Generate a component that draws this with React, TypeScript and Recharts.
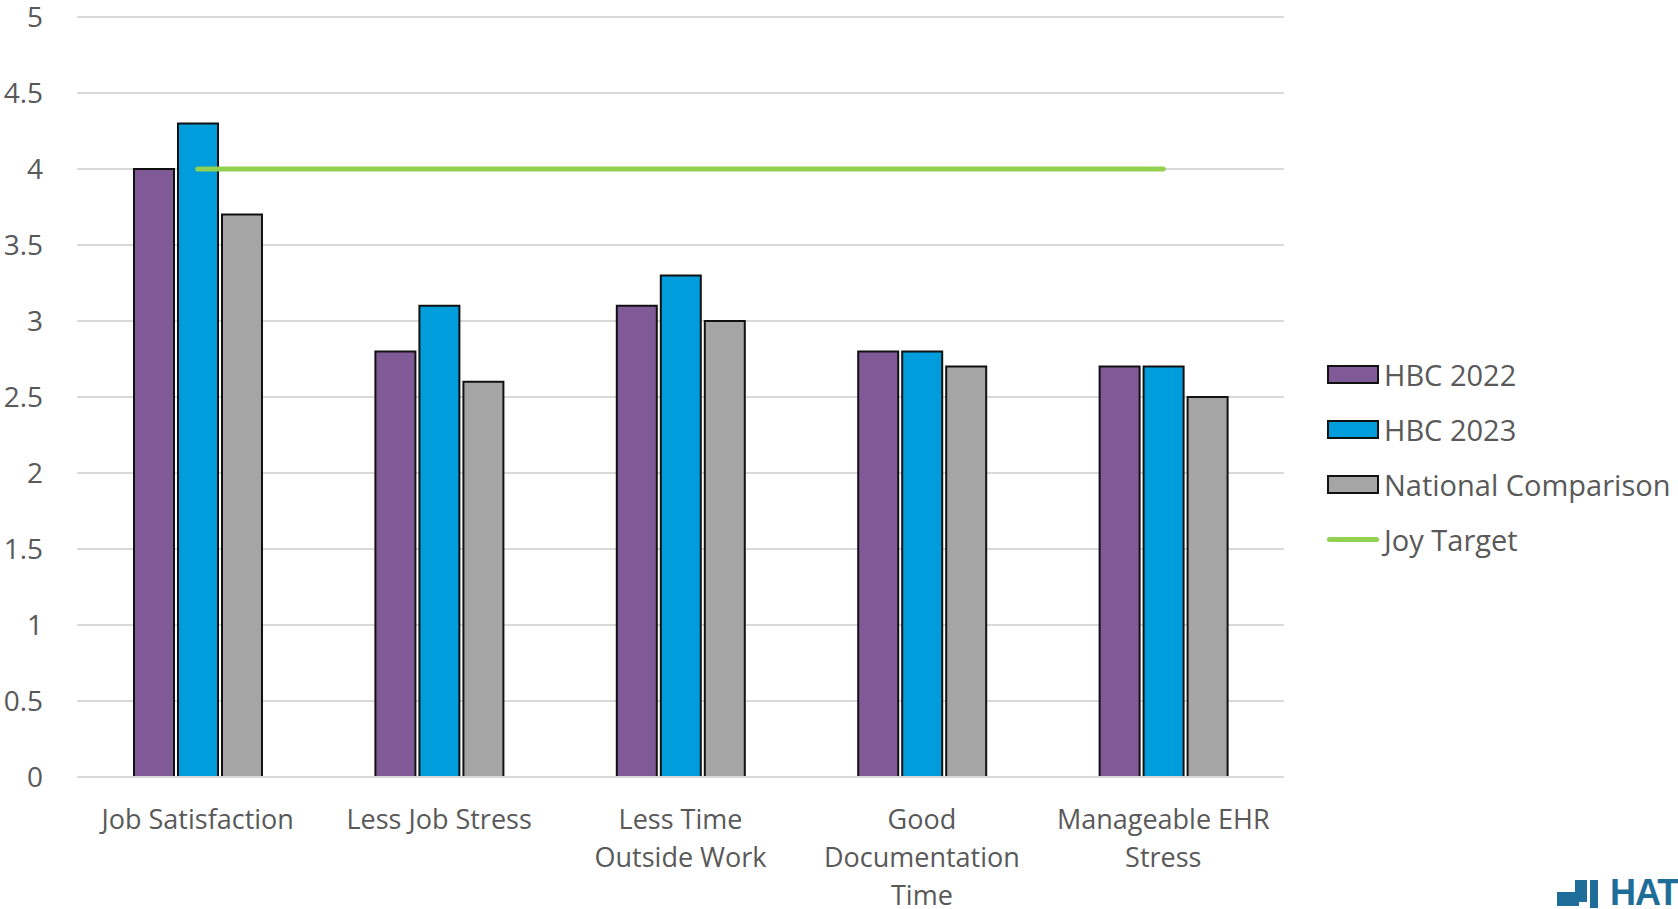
import { ComposedChart, Bar, Line, XAxis, YAxis, CartesianGrid } from 'recharts'

const categories = [
  'Job Satisfaction',
  'Less Job Stress',
  'Less Time\nOutside Work',
  'Good\nDocumentation\nTime',
  'Manageable EHR\nStress',
]
const hbc2022 = [4.0, 2.8, 3.1, 2.8, 2.7]
const hbc2023 = [4.3, 3.1, 3.3, 2.8, 2.7]
const national = [3.7, 2.6, 3.0, 2.7, 2.5]
const joyTarget = [4, 4, 4, 4, 4]
const yTicks = [0, 0.5, 1, 1.5, 2, 2.5, 3, 3.5, 4, 4.5, 5]

const FONT = '"Open Sans", sans-serif'
const TEXT = '#595959'

const series = [
  { key: 'hbc2022', name: 'HBC 2022', color: '#7F5A96' },
  { key: 'hbc2023', name: 'HBC 2023', color: '#009DDC' },
  { key: 'national', name: 'National Comparison', color: '#A5A5A5' },
]

const data = categories.map((c, i) => ({
  name: c,
  hbc2022: hbc2022[i],
  hbc2023: hbc2023[i],
  national: national[i],
  joy: joyTarget[i],
}))

function CategoryTick({ x, y, payload }: any) {
  const lines = String(payload.value).split('\n')
  return (
    <text x={x} y={y} textAnchor="middle" fill={TEXT} fontFamily={FONT} fontSize={27}>
      {lines.map((l, i) => (
        <tspan key={i} x={x} dy={i === 0 ? 44 : 38}>{l}</tspan>
      ))}
    </text>
  )
}

function LegendBox() {
  const rows = [...series.map(s => ({ ...s, line: false })), { key: 'joy', name: 'Joy Target', color: '#92D050', line: true }]
  return (
    <div style={{ position: 'absolute', left: 1327, top: 347, fontFamily: FONT, fontSize: 29, color: TEXT }}>
      {rows.map(r => (
        <div key={r.key} style={{ display: 'flex', alignItems: 'center', height: 55 }}>
          {r.line ? (
            <div style={{ width: 52, height: 5, borderRadius: 3, background: r.color }} />
          ) : (
            <div style={{ width: 48, height: 15, background: r.color, border: '2px solid #111' }} />
          )}
          <span style={{ marginLeft: 5, whiteSpace: 'nowrap' }}>{r.name}</span>
        </div>
      ))}
    </div>
  )
}

export default function App() {
  return (
    <div style={{ position: 'relative', width: 1678, height: 909, background: '#fff', overflow: 'hidden' }}>
      <style>{'body{margin:0}'}</style>
      <ComposedChart
        width={1678}
        height={909}
        data={data}
        margin={{ top: 17, right: 394, bottom: 0, left: 0 }}
        barGap={4}
      >
        <CartesianGrid vertical={false} stroke="#D9D9D9" strokeWidth={2} />
        <XAxis
          dataKey="name"
          height={132}
          axisLine={{ stroke: '#D9D9D9', strokeWidth: 2 }}
          tickLine={false}
          interval={0}
          tick={<CategoryTick />}
        />
        <YAxis
          width={77}
          domain={[0, 5]}
          ticks={yTicks}
          axisLine={false}
          tickLine={false}
          tickMargin={28}
          tick={{ fill: TEXT, fontSize: 28, fontFamily: FONT }}
        />
        {series.map(s => (
          <Bar
            key={s.key}
            dataKey={s.key}
            name={s.name}
            fill={s.color}
            stroke="#111"
            strokeWidth={2}
            barSize={40}
            isAnimationActive={false}
          />
        ))}
        <Line
          dataKey="joy"
          name="Joy Target"
          type="linear"
          stroke="#92D050"
          strokeWidth={5}
          strokeLinecap="round"
          dot={false}
          activeDot={false}
          isAnimationActive={false}
        />
      </ComposedChart>
      <LegendBox />
      <div
        style={{
          position: 'absolute',
          left: 1610,
          top: 872,
          fontFamily: '"Liberation Sans", sans-serif',
          fontWeight: 'bold',
          fontSize: 36,
          color: '#1F6E9A',
          letterSpacing: -1,
        }}
      >
        HAT
      </div>
      <div style={{ position: 'absolute', left: 1557, top: 892, width: 22, height: 14, background: '#1F6E9A' }} />
      <div style={{ position: 'absolute', left: 1575, top: 880, width: 12, height: 22, background: '#1F6E9A' }} />
      <div style={{ position: 'absolute', left: 1590, top: 880, width: 8, height: 28, background: '#1F6E9A' }} />
    </div>
  )
}
